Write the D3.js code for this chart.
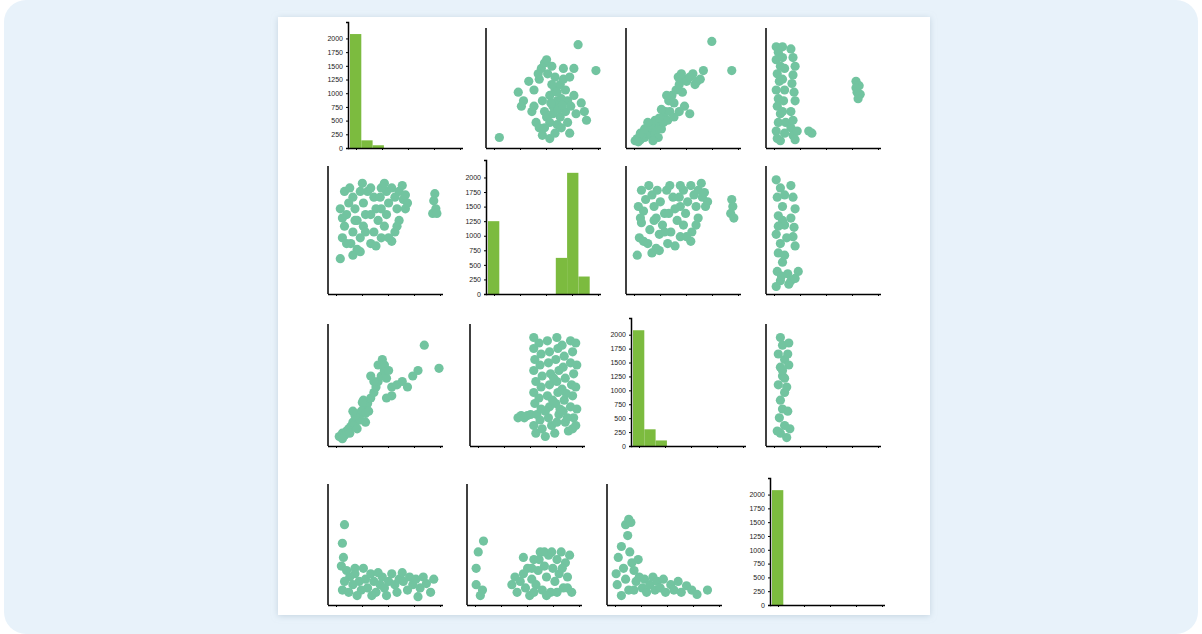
<!DOCTYPE html>
<html><head><meta charset="utf-8">
<script src="https://cdn.jsdelivr.net/npm/d3@7"></script>
<style>
body{margin:0;background:#fff;font-family:"Open Sans",sans-serif;}
#wrap{position:absolute;left:4px;top:0;width:1194px;height:634px;background:#e8f2fa;border-radius:22px;}
</style></head><body>
<div id="wrap"></div>
<svg id="chart" width="1202" height="634" style="position:absolute;left:0;top:0"></svg>
<script>
// histogram counts per diagonal cell (10 bins each)
const hist0 = [2080, 140, 50, 0, 0, 0, 0, 0, 0, 0];
const hist1 = [1250, 0, 0, 0, 0, 0, 620, 2080, 300, 0];
const hist2 = [2080, 300, 100, 0, 0, 0, 0, 0, 0, 0];
const hist3 = [2080, 0, 0, 0, 0, 0, 0, 0, 0, 0];
const histTicks = [0, 250, 500, 750, 1000, 1250, 1500, 1750, 2000];

// scatter points per off-diagonal cell, [x, y] on 0-100 scales
const pts01 = [[82,92],[99,68],[7,6],[40,50],[45,60],[47,70],[50,75],[52,78],[44,65],[35,58],[30,40],[38,30],[42,20],[45,15],[48,8],[55,5],[60,10],[62,18],[65,25],[70,30],[72,40],[75,35],[78,45],[80,28],[85,38],[88,30],[90,22],[55,45],[58,35],[60,50],[62,40],[65,55],[68,60],[70,50],[72,20],[50,30],[52,25],[55,20],[58,28],[63,32],[66,42],[74,62],[78,70],[66,15],[74,10],[28,35],[25,48],[40,35],[48,40],[60,62],[57,72],[68,70],[53,65],[57,55],[62,48],[67,36],[50,15],[56,38]];
const pts02 = [[3,3],[5,5],[8,4],[10,8],[12,6],[14,10],[16,12],[18,8],[20,14],[22,10],[24,16],[26,18],[28,14],[30,20],[8,10],[12,14],[18,18],[22,22],[26,24],[30,26],[34,22],[32,30],[35,40],[38,45],[40,38],[42,50],[45,55],[48,48],[50,60],[52,58],[55,62],[58,65],[60,55],[62,58],[65,60],[68,68],[50,35],[45,30],[55,28],[76,95],[95,68],[36,30],[40,25],[15,20],[6,2],[25,6],[20,3],[28,32],[33,45],[44,62],[47,65]];
const pts03 = [[4,90],[6,85],[4,78],[8,72],[5,65],[7,58],[4,50],[6,42],[5,35],[8,28],[6,20],[4,12],[5,5],[10,80],[12,70],[10,60],[12,50],[11,40],[10,30],[13,20],[12,10],[18,88],[20,80],[22,72],[20,64],[19,56],[21,48],[22,40],[18,15],[20,8],[24,12],[22,4],[35,12],[38,10],[80,58],[83,54],[81,48],[84,46],[82,42],[80,52],[10,90],[8,3],[18,30],[20,22]];
const pts10 = [[6,27],[8,45],[10,55],[12,65],[14,75],[10,85],[15,88],[18,80],[20,70],[22,60],[18,50],[16,40],[22,35],[25,45],[28,55],[30,65],[28,75],[32,85],[35,88],[38,80],[40,70],[42,60],[38,50],[35,40],[40,38],[45,45],[48,55],[50,65],[52,75],[50,85],[55,88],[58,80],[60,70],[62,60],[58,50],[55,42],[62,85],[65,90],[66,78],[68,70],[70,75],[60,55],[25,85],[45,88],[30,50],[20,60],[12,40],[96,83],[95,77],[97,70],[94,66],[98,66],[8,62],[6,70],[18,30],[25,33],[45,70],[68,82],[35,65],[44,80],[52,45],[27,92],[48,92]];
const pts12 = [[5,30],[7,45],[9,58],[11,68],[13,78],[9,86],[16,90],[19,82],[21,72],[23,62],[17,52],[15,40],[23,36],[26,48],[29,56],[31,66],[27,76],[33,86],[36,90],[39,80],[41,70],[43,60],[37,50],[34,40],[41,38],[46,46],[49,56],[51,66],[53,76],[49,86],[56,90],[59,82],[61,72],[63,62],[57,50],[56,42],[63,86],[66,92],[67,80],[70,72],[72,76],[61,56],[24,86],[46,90],[31,50],[21,60],[11,42],[95,78],[96,72],[94,66],[97,62],[8,62],[6,72],[19,32],[26,34],[46,72],[69,84],[35,66],[45,80],[52,46]];
const pts13 = [[4,95],[8,88],[5,80],[10,72],[6,64],[12,56],[4,48],[8,40],[6,32],[10,24],[5,16],[8,8],[4,3],[18,90],[20,80],[22,70],[18,62],[21,54],[20,46],[22,38],[10,60],[12,82],[15,14],[18,8],[22,10],[25,16],[12,30],[14,45],[6,55],[9,12],[16,5]];
const pts20 = [[5,5],[8,8],[10,6],[12,10],[14,12],[16,14],[18,18],[20,16],[22,22],[24,25],[26,28],[28,30],[30,26],[25,20],[20,24],[15,8],[22,12],[30,18],[32,35],[35,40],[38,45],[40,50],[42,55],[45,60],[48,65],[50,58],[38,55],[35,60],[42,70],[46,75],[48,70],[52,65],[55,50],[60,52],[65,55],[70,50],[75,60],[80,65],[50,40],[55,42],[86,88],[100,67],[28,38],[18,28],[8,3],[33,28],[27,36]];
const pts21 = [[40,22],[43,24],[46,22],[49,24],[52,25],[55,95],[55,85],[56,75],[55,65],[57,55],[55,45],[56,35],[58,25],[55,15],[57,8],[60,90],[62,80],[61,70],[63,60],[62,50],[60,40],[62,30],[61,20],[63,12],[66,5],[68,92],[70,82],[69,72],[71,62],[70,52],[68,42],[70,32],[69,22],[72,15],[75,8],[77,95],[78,85],[76,75],[79,65],[77,55],[78,45],[76,35],[79,25],[77,18],[82,88],[84,78],[83,68],[85,58],[82,48],[84,38],[83,28],[85,18],[88,10],[90,92],[92,82],[90,72],[93,62],[91,52],[92,42],[90,32],[93,22],[92,12],[95,90],[96,70],[95,50],[96,30],[95,15],[66,28],[73,38],[80,30],[87,22],[74,58],[86,44]];
const pts23 = [[8,95],[10,88],[6,80],[12,75],[8,68],[10,60],[6,52],[12,45],[8,38],[10,30],[7,22],[12,15],[8,8],[14,4],[16,90],[15,80],[16,70],[14,50],[15,28],[5,10],[17,12],[12,58],[10,65]];
const pts30 = [[8,53],[9,40],[7,32],[12,28],[15,22],[10,18],[8,10],[14,8],[18,15],[20,25],[24,18],[26,10],[22,5],[30,20],[32,12],[35,25],[38,18],[40,8],[44,15],[46,22],[48,12],[52,18],[55,25],[58,15],[60,8],[62,20],[66,18],[70,10],[72,22],[75,15],[78,20],[82,12],[85,22],[88,16],[92,8],[95,20],[36,5],[50,5],[80,4],[28,30],[42,26],[65,26],[10,70],[20,30]];
const pts31 = [[3,30],[5,45],[3,15],[7,5],[10,55],[9,10],[37,15],[40,22],[42,8],[45,18],[48,25],[50,12],[52,30],[54,5],[56,20],[58,38],[60,15],[62,28],[64,45],[66,10],[68,32],[70,22],[72,42],[74,8],[76,30],[78,18],[80,38],[82,25],[84,45],[86,12],[88,35],[90,22],[92,42],[94,8],[63,38],[68,45],[75,45],[85,30],[58,8],[70,5],[48,40],[90,12],[56,30],[80,8]];
const pts32 = [[3,25],[5,40],[4,15],[8,50],[10,30],[12,70],[14,60],[15,75],[17,72],[16,45],[18,35],[12,20],[15,10],[20,28],[22,18],[25,22],[28,12],[30,20],[32,8],[35,15],[38,22],[40,10],[42,18],[45,12],[48,20],[50,8],[55,15],[58,10],[62,18],[65,8],[70,14],[75,10],[80,6],[90,10],[20,10],[8,5],[24,38]];

const cells = [
  [{h:hist0},{p:pts01},{p:pts02},{p:pts03}],
  [{p:pts10},{h:hist1},{p:pts12},{p:pts13}],
  [{p:pts20},{p:pts21},{h:hist2},{p:pts23}],
  [{p:pts30},{p:pts31},{p:pts32},{h:hist3}]
];
const lefts = [[348,486,626,766],[328,486,626,766],[328,470,631,766],[328,467,607,770]];
const rows = [[22,148],[160,294],[318,446],[478,605]];
const cw = 115;

const svg = d3.select("#chart");
const defs = svg.append("defs");
const f = defs.append("filter").attr("id","sh").attr("x","-5%").attr("y","-5%").attr("width","110%").attr("height","110%");
f.append("feDropShadow").attr("dx",0).attr("dy",1).attr("stdDeviation",3).attr("flood-color","#9fb4c4").attr("flood-opacity",0.5);
svg.append("rect").attr("x",278).attr("y",17).attr("width",652).attr("height",598).attr("fill","#fff").attr("filter","url(#sh)");

cells.forEach((row, i) => row.forEach((c, j) => {
  const x0 = lefts[i][j], y0 = rows[i][0], y1 = rows[i][1];
  const g = svg.append("g");
  if (c.h) {
    const x = d3.scaleLinear().domain([0, 10]).range([x0 + 2, x0 + cw]);
    const y = d3.scaleLinear().domain([0, 2300]).range([y1, y0]);
    g.selectAll("rect").data(c.h).join("rect")
      .attr("x", (d, k) => x(k)).attr("width", x(1) - x(0))
      .attr("y", d => y(d)).attr("height", d => y1 - y(d))
      .attr("fill", "#7cbb3f");
    g.append("g").attr("transform", `translate(${x0},0)`)
      .call(d3.axisLeft(y).tickValues(histTicks).tickFormat(d3.format("d")).tickSize(2).tickPadding(3))
      .call(a => a.select(".domain").attr("stroke-width", 1.5))
      .selectAll("text").attr("font-size", 7).attr("fill", "#222");
  } else {
    const x = d3.scaleLinear().domain([0, 100]).range([x0 + 6, x0 + cw - 4]);
    const y = d3.scaleLinear().domain([0, 100]).range([y1 - 4, y0 + 14]);
    g.selectAll("circle").data(c.p).join("circle")
      .attr("cx", d => x(d[0])).attr("cy", d => y(d[1])).attr("r", 4.6)
      .attr("fill", "#72c4a0");
    g.append("line").attr("x1", x0).attr("x2", x0).attr("y1", y0 + 6).attr("y2", y1)
      .attr("stroke", "#000").attr("stroke-width", 1.5);
  }
  const xb = d3.scaleLinear().domain([0, 4]).range([x0 + 8, x0 + cw - 3]);
  g.append("g").attr("transform", `translate(0,${y1})`)
    .call(d3.axisBottom(xb).ticks(4).tickSize(2).tickSizeOuter(0).tickFormat(""))
    .call(a => a.select(".domain").attr("d", `M${x0},0.5H${x0 + cw}`).attr("stroke-width", 1.5));
}));
</script>
</body></html>
